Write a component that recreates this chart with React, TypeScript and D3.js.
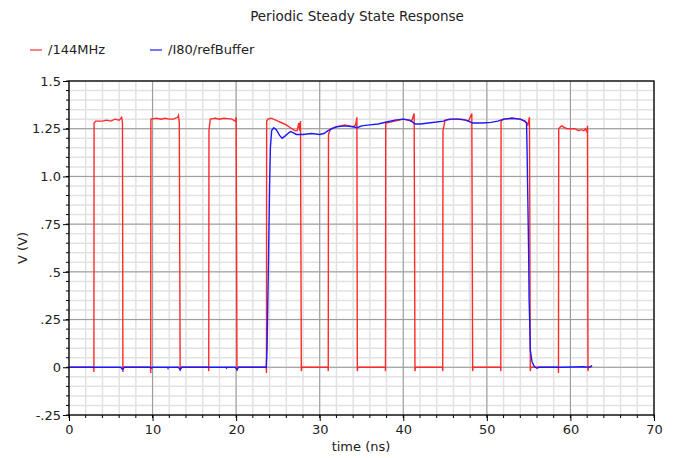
import React, { useEffect, useRef } from "react";
import * as d3 from "d3";

// /144MHz (red) : time in ns, value in V
const redTime = [
  0, 2.95, 2.98, 3.0, 3.2, 4, 4.5, 5, 5.5, 6.0, 6.3, 6.4, 6.45, 6.5,
  9.75, 9.78, 9.8, 10.5, 11, 11.5, 12, 12.5, 13.0, 13.1, 13.2, 13.3, 13.35,
  16.7, 16.72, 16.75, 16.9, 17.5, 18, 18.5, 19.5, 19.9, 20.0, 20.1, 20.15,
  23.6, 23.63, 23.65, 23.8, 24.2, 25, 25.5, 26, 26.5, 27.0, 27.3, 27.5, 27.6, 27.7, 27.8, 27.85,
  31.0, 31.02, 31.05, 31.3, 32, 33, 33.5, 34, 34.3, 34.45, 34.5, 34.55,
  37.85, 37.87, 37.9, 39, 40, 41, 41.3, 41.4, 41.45,
  44.7, 44.72, 44.75, 45, 46, 47, 47.8, 48.2, 48.3, 48.35,
  51.65, 51.67, 51.7, 52, 53, 54, 54.6, 54.9, 55.1, 55.2, 55.25,
  58.55, 58.57, 58.6, 58.8, 59, 59.3, 59.6, 60.5, 61, 61.3, 61.6, 61.8, 62.0, 62.05, 62.1, 62.15, 62.5,
];
const redValue = [
  0, 0, -0.025, 1.28, 1.29, 1.29, 1.295, 1.29, 1.3, 1.295, 1.31, 1.28, -0.025, 0,
  0, -0.03, 1.3, 1.305, 1.3, 1.305, 1.3, 1.3, 1.31, 1.32, 1.28, -0.02, 0,
  0, -0.02, 1.24, 1.3, 1.305, 1.3, 1.305, 1.3, 1.29, 1.31, -0.02, 0,
  0, -0.03, 1.29, 1.3, 1.305, 1.29, 1.28, 1.27, 1.255, 1.24, 1.24, 1.28, 1.24, 1.29, -0.02, 0,
  0, -0.02, 1.22, 1.25, 1.26, 1.27, 1.265, 1.26, 1.27, 1.31, -0.02, 0,
  0, -0.02, 1.28, 1.29, 1.3, 1.29, 1.33, -0.02, 0,
  0, -0.02, 1.24, 1.295, 1.3, 1.3, 1.29, 1.33, -0.02, 0,
  0, -0.02, 1.29, 1.3, 1.305, 1.3, 1.29, 1.27, 1.31, -0.02, 0,
  0, -0.03, 1.25, 1.26, 1.265, 1.255, 1.25, 1.25, 1.24, 1.245, 1.24, 1.25, 1.23, 1.265, -0.02, 0, 0,
];

// /I80/refBuffer (blue)
const blueTime = [
  0, 6.2, 6.4, 6.6, 9.8, 9.9, 10, 11.8, 11.85, 11.9, 13.1, 13.3, 13.5, 18.8, 18.85, 18.9,
  19.9, 20.1, 20.3, 23.6, 23.7, 23.85, 24.0, 24.1, 24.25, 24.5, 24.8, 25.2, 25.5, 25.8,
  26.2, 26.5, 26.8, 27.2, 28, 29, 30, 30.5, 31, 31.5, 32, 33, 34, 34.5, 35, 36, 37, 38,
  39, 40, 40.8, 41.4, 42, 43, 44, 44.8, 45.5, 46.5, 47.5, 48.3, 49.5, 50.5, 51.3, 52, 53,
  54, 54.5, 54.75, 54.8, 55.0, 55.05, 55.15, 55.2, 55.4, 55.6, 55.8, 56, 56.2, 59, 61.6,
  62, 62.3, 62.6,
];
const blueValue = [
  0, 0, -0.012, 0, 0, -0.005, 0, 0, -0.005, 0, 0, -0.012, 0, 0, -0.004, 0,
  0, -0.012, 0, 0, 0.1, 0.5, 0.95, 1.15, 1.24, 1.255, 1.245, 1.215, 1.2, 1.21,
  1.225, 1.235, 1.23, 1.22, 1.22, 1.225, 1.22, 1.225, 1.24, 1.25, 1.26, 1.265, 1.26, 1.255, 1.265, 1.27, 1.275, 1.285,
  1.295, 1.3, 1.295, 1.275, 1.275, 1.28, 1.285, 1.29, 1.3, 1.3, 1.295, 1.28, 1.28, 1.283, 1.29, 1.3, 1.305,
  1.3, 1.29, 1.28, 1.17, 0.6, 0.37, 0.2, 0.09, 0.03, 0.01, 0, -0.005, 0, 0, 0.003,
  0, 0.002, 0.008,
];

const xTicks = [0, 10, 20, 30, 40, 50, 60, 70];
const yTicks = [1.5, 1.25, 1.0, 0.75, 0.5, 0.25, 0, -0.25];
const yTickLabels = ["1.5", "1.25", "1.0", ".75", ".5", ".25", "0", "-.25"];

const W = 681;
const H = 458;
const margin = { top: 81, right: 27, bottom: 43, left: 69 };
const FONT = "DejaVu Sans, sans-serif";

export default function App() {
  const svgRef = useRef<SVGSVGElement>(null);

  useEffect(() => {
    const svg = d3.select(svgRef.current);
    svg.selectAll("*").remove();

    const x = d3.scaleLinear().domain([0, 70]).range([margin.left, W - margin.right]);
    const y = d3.scaleLinear().domain([-0.25, 1.5]).range([H - margin.bottom, margin.top]);

    const minorX = d3.range(0, 70.001, 2);
    const minorY = d3.range(-0.25, 1.5001, 0.05);

    const grid = svg.append("g");
    grid.selectAll(".mx").data(minorX).join("line")
      .attr("x1", d => x(d)).attr("x2", d => x(d))
      .attr("y1", y(-0.25)).attr("y2", y(1.5))
      .attr("stroke", "#e2e2e2").attr("stroke-width", 1.5);
    grid.selectAll(".my").data(minorY).join("line")
      .attr("x1", x(0)).attr("x2", x(70))
      .attr("y1", d => y(d)).attr("y2", d => y(d))
      .attr("stroke", "#e2e2e2").attr("stroke-width", 1.5);
    grid.selectAll(".Mx").data(xTicks).join("line")
      .attr("x1", d => x(d)).attr("x2", d => x(d))
      .attr("y1", y(-0.25)).attr("y2", y(1.5))
      .attr("stroke", "#999").attr("stroke-width", 1);
    grid.selectAll(".My").data(yTicks).join("line")
      .attr("x1", x(0)).attr("x2", x(70))
      .attr("y1", d => y(d)).attr("y2", d => y(d))
      .attr("stroke", "#999").attr("stroke-width", 1);

    // minor ticks
    const mt = svg.append("g").attr("stroke", "#000");
    mt.selectAll(".tx").data(minorX).join("line")
      .attr("x1", d => x(d)).attr("x2", d => x(d))
      .attr("y1", y(-0.25)).attr("y2", y(-0.25) + 3);
    mt.selectAll(".ty").data(minorY).join("line")
      .attr("x1", x(0) - 3).attr("x2", x(0))
      .attr("y1", d => y(d)).attr("y2", d => y(d));

    const xAxis = d3.axisBottom(x).tickValues(xTicks).tickSize(6).tickPadding(4)
      .tickFormat(d => String(d));
    const gx = svg.append("g").attr("transform", `translate(0,${y(-0.25)})`).call(xAxis);
    const yAxis = d3.axisLeft(y).tickValues(yTicks).tickSize(6).tickPadding(2)
      .tickFormat((d, i) => yTickLabels[i]);
    const gy = svg.append("g").attr("transform", `translate(${x(0)},0)`).call(yAxis);
    [gx, gy].forEach(g => {
      g.select(".domain").remove();
      g.selectAll("text").attr("font-family", FONT).attr("font-size", 13).attr("fill", "#222");
    });

    const line = d3.line<[number, number]>().x(d => x(d[0])).y(d => y(d[1]));
    const redPts = redTime.map((t, i) => [t, redValue[i]] as [number, number]);
    const bluePts = blueTime.map((t, i) => [t, blueValue[i]] as [number, number]);

    svg.append("path").attr("d", line(redPts)).attr("fill", "none")
      .attr("stroke", "#ff2a2a").attr("stroke-width", 1.4);
    svg.append("path").attr("d", line(bluePts)).attr("fill", "none")
      .attr("stroke", "#1a1aff").attr("stroke-width", 1.4);

    // plot frame
    svg.append("rect")
      .attr("x", x(0)).attr("y", y(1.5))
      .attr("width", x(70) - x(0)).attr("height", y(-0.25) - y(1.5))
      .attr("fill", "none").attr("stroke", "#000").attr("stroke-width", 1.2);

    svg.append("text").attr("x", 357).attr("y", 21).attr("text-anchor", "middle")
      .attr("font-family", FONT).attr("font-size", 13.5).attr("fill", "#222")
      .text("Periodic Steady State Response");

    const legend = [
      { label: "/144MHz", color: "#ff2a2a", x: 30 },
      { label: "/I80/refBuffer", color: "#1a1aff", x: 150 },
    ];
    const lg = svg.append("g");
    legend.forEach(l => {
      lg.append("line").attr("x1", l.x).attr("x2", l.x + 12).attr("y1", 50).attr("y2", 50)
        .attr("stroke", l.color).attr("stroke-width", 1.2);
      lg.append("text").attr("x", l.x + 18).attr("y", 54)
        .attr("font-family", FONT).attr("font-size", 13).attr("fill", "#222").text(l.label);
    });

    svg.append("text").attr("x", 361).attr("y", 451).attr("text-anchor", "middle")
      .attr("font-family", FONT).attr("font-size", 13).attr("fill", "#222").text("time (ns)");
    svg.append("text").attr("transform", `translate(27,${(y(1.5) + y(-0.25)) / 2}) rotate(-90)`)
      .attr("text-anchor", "middle")
      .attr("font-family", FONT).attr("font-size", 13).attr("fill", "#222").text("V (V)");
  }, []);

  return (
    <svg ref={svgRef} width={W} height={H}
      style={{ position: "absolute", left: 0, top: 0, background: "#fff" }} />
  );
}
